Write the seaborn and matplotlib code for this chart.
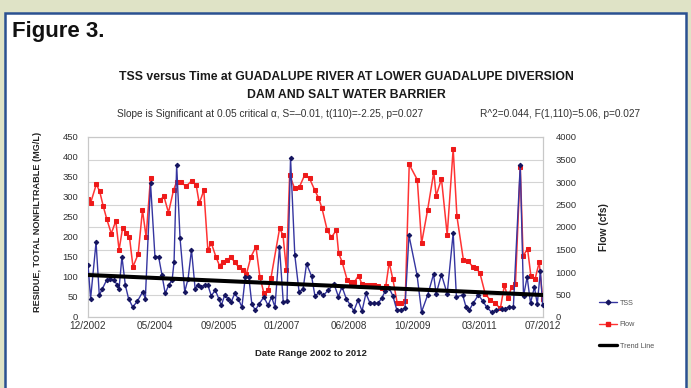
import numpy as np
import pandas as pd
import matplotlib
matplotlib.use("Agg")
import matplotlib.pyplot as plt
import matplotlib.dates as mdates
from matplotlib.lines import Line2D
from matplotlib.patches import Rectangle
import seaborn as sns

# ---------------- data ----------------
tss_dates = [
    "2002-12-01", "2002-12-21", "2003-02-01", "2003-02-26", "2003-03-22", "2003-04-23",
    "2003-05-18", "2003-06-18", "2003-07-13", "2003-07-28", "2003-08-19", "2003-09-14",
    "2003-10-09", "2003-11-10", "2003-12-15", "2004-01-26", "2004-02-15", "2004-03-26",
    "2004-04-29", "2004-05-27", "2004-06-22", "2004-07-17", "2004-08-13", "2004-09-08",
    "2004-09-23", "2004-10-13", "2004-11-08", "2004-12-14", "2005-01-09", "2005-02-04",
    "2005-03-04", "2005-03-25", "2005-04-20", "2005-05-16", "2005-06-10", "2005-07-06",
    "2005-08-06", "2005-09-02", "2005-09-21", "2005-10-17", "2005-11-12", "2005-12-07",
    "2006-01-03", "2006-01-29", "2006-02-27", "2006-03-25", "2006-04-21", "2006-05-14",
    "2006-06-10", "2006-07-10", "2006-08-15", "2006-09-16", "2006-10-13", "2006-11-08",
    "2006-12-13", "2007-01-11", "2007-02-09", "2007-03-08", "2007-04-10", "2007-05-13",
    "2007-06-13", "2007-07-09", "2007-08-17", "2007-09-12", "2007-10-15", "2007-11-15",
    "2007-12-23", "2008-02-06", "2008-03-10", "2008-04-07", "2008-05-10", "2008-06-10",
    "2008-07-07", "2008-08-08", "2008-09-08", "2008-10-08", "2008-11-09", "2008-12-09",
    "2009-01-09", "2009-02-06", "2009-03-06", "2009-04-05", "2009-05-03", "2009-06-03",
    "2009-07-04", "2009-08-04", "2009-09-04", "2009-11-05", "2009-12-10", "2010-01-27",
    "2010-03-12", "2010-04-01", "2010-05-12", "2010-06-25", "2010-08-10", "2010-09-04",
    "2010-10-22", "2010-11-16", "2010-12-13", "2011-01-10", "2011-02-20", "2011-03-26",
    "2011-04-24", "2011-06-01", "2011-07-09", "2011-08-17", "2011-09-12", "2011-10-13",
    "2011-11-16", "2012-01-08", "2012-02-02", "2012-03-01", "2012-03-27", "2012-04-26",
    "2012-05-18", "2012-06-11", "2012-06-28",
]
tss_values = [
    131, 46, 187, 54, 71, 92,
    95, 92, 81, 71, 151, 80,
    46, 25, 39, 63, 46, 335,
    151, 151, 105, 59, 80, 92,
    138, 380, 197, 63, 96, 168,
    71, 80, 75, 80, 80, 53,
    67, 46, 29, 54, 46, 38,
    59, 46, 25, 100, 100, 33,
    17, 33, 50, 29, 50, 25,
    175, 37, 40, 398, 154, 62,
    71, 133, 102, 52, 62, 54,
    67, 82, 51, 76, 45, 30,
    15, 42, 15, 59, 34, 34,
    34, 47, 65, 72, 53, 17,
    17, 22, 204, 105, 13, 56,
    107, 58, 106, 58, 210, 50,
    55, 26, 18, 34, 55, 40,
    25, 12, 17, 21, 21, 25,
    25, 380, 52, 100, 35, 75,
    32, 116, 29,
]

flow_dates = [
    "2002-12-01", "2002-12-21", "2003-02-03", "2003-03-01", "2003-03-28", "2003-04-25",
    "2003-05-29", "2003-07-03", "2003-07-28", "2003-08-24", "2003-09-19", "2003-10-16",
    "2003-11-12", "2003-12-22", "2004-01-24", "2004-02-21", "2004-03-26", "2004-04-29",
    "2004-06-10", "2004-07-07", "2004-08-11", "2004-09-19", "2004-10-12", "2004-11-12",
    "2004-12-26", "2005-02-05", "2005-03-12", "2005-04-05", "2005-05-10", "2005-06-10",
    "2005-07-07", "2005-08-11", "2005-09-08", "2005-10-04", "2005-11-05", "2005-12-05",
    "2006-01-01", "2006-02-02", "2006-03-04", "2006-04-03", "2006-05-07", "2006-06-15",
    "2006-07-15", "2006-08-15", "2006-09-16", "2006-10-08", "2006-12-14", "2007-01-09",
    "2007-02-04", "2007-03-01", "2007-04-08", "2007-05-16", "2007-06-24", "2007-08-01",
    "2007-09-10", "2007-10-09", "2007-11-05", "2007-12-15", "2008-01-16", "2008-02-24",
    "2008-03-12", "2008-04-07", "2008-05-17", "2008-06-15", "2008-07-11", "2008-08-12",
    "2008-09-08", "2008-10-08", "2008-11-09", "2008-12-09", "2009-01-09", "2009-02-09",
    "2009-03-10", "2009-04-05", "2009-05-03", "2009-06-05", "2009-07-06", "2009-08-06",
    "2009-09-06", "2009-11-07", "2009-12-10", "2010-01-25", "2010-03-14", "2010-04-01",
    "2010-05-12", "2010-06-25", "2010-08-10", "2010-09-08", "2010-10-28", "2010-11-30",
    "2011-01-08", "2011-02-02", "2011-03-04", "2011-04-13", "2011-05-21", "2011-06-24",
    "2011-08-08", "2011-09-08", "2011-10-06", "2011-11-03", "2011-12-02", "2012-01-08",
    "2012-01-30", "2012-03-04", "2012-03-30", "2012-05-02", "2012-06-02", "2012-06-28",
]
flow_values = [
    2630, 2535, 2950, 2790, 2465, 2170,
    1855, 2135, 1490, 1975, 1875, 1775,
    1115, 1400, 2375, 1780, 3100, np.nan,
    2607, 2682, 2320, 2820, 3000, 2990,
    2910, 3025, 2935, 2525, 2815, 1490,
    1640, 1335, 1140, 1225, 1265, 1335,
    1220, 1110, 1050, 960, 1335, 1560,
    895, 530, 600, 860, 1970, 1820,
    1045, 3150, 2860, 2895, 3150, 3080,
    2820, 2650, 2415, 1930, 1770, 1930,
    1415, 1230, 820, 780, 780, 920,
    725, 710, 710, 705, 700, 640,
    690, 1210, 840, 320, 320, 350,
    3390, 3050, 1640, 2375, 3220, 2690,
    3070, 1825, 3735, 2235, 1260, 1245,
    1120, 1092, 972, 520, 377, 318,
    190, 705, 415, 674, 728, 3330,
    1350, 1520, 910, 855, 1220, 410,
]

trend_dates = ["2002-12-01", "2012-07-01"]
trend_values = [105, 55]

tick_dates = ["2002-12-01", "2004-05-01", "2005-09-01", "2007-01-01",
              "2008-06-01", "2009-10-01", "2011-03-01", "2012-07-01"]
left_ticks = [0, 50, 100, 150, 200, 250, 300, 350, 400, 450]
right_ticks = [0, 500, 1000, 1500, 2000, 2500, 3000, 3500, 4000]

# ---------------- frames ----------------
tss_df = pd.DataFrame({"date": pd.to_datetime(tss_dates), "tss": tss_values})
flow_df = pd.DataFrame({"date": pd.to_datetime(flow_dates), "flow": flow_values})
flow_df["segment"] = flow_df["flow"].isna().cumsum()
flow_df = flow_df.dropna()
trend_df = pd.DataFrame({"date": pd.to_datetime(trend_dates), "trend": trend_values})

# ---------------- style ----------------
sns.set_theme(style="white")
plt.rcParams["font.family"] = ["Liberation Sans", "DejaVu Sans"]

W, H = 691, 388
fig = plt.figure(figsize=(W / 100, H / 100), dpi=100)
fig.patch.set_facecolor("#dfe3c6")

# white panel with blue border (drawn beneath everything)
panel = Rectangle((5 / W, -0.01), 681 / W, (H - 13) / H + 0.01, transform=fig.transFigure,
                  facecolor="white", edgecolor="#2a5191", linewidth=1.8, zorder=-10)
fig.patches.append(panel)

fig.text(12 / W, 1 - 32 / H, "Figure 3.", fontsize=16, fontweight="bold",
         family=["Liberation Sans Narrow", "Liberation Sans"],
         color="#111111", va="center", ha="left")

ax_left, ax_right, ax_top, ax_bottom = 88, 543, 137, 317
ax = fig.add_axes([ax_left / W, 1 - ax_bottom / H, (ax_right - ax_left) / W,
                   (ax_bottom - ax_top) / H])
ax2 = ax.twinx()

blue_line = "#3535a0"
blue_mark = "#14145e"
red_line = "#ff3333"
red_mark = "#ee1a1a"

sns.lineplot(data=flow_df, x="date", y="flow", units="segment", estimator=None,
             color=red_line, lw=1.1, marker="s", markersize=3.1,
             markerfacecolor=red_mark, markeredgecolor=red_mark, ax=ax2, zorder=2)
sns.lineplot(data=tss_df, x="date", y="tss", color=blue_line, lw=1.0,
             marker="D", markersize=2.3, markerfacecolor=blue_mark,
             markeredgecolor=blue_mark, ax=ax, zorder=3)
sns.lineplot(data=trend_df, x="date", y="trend", color="black", lw=2.9, ax=ax, zorder=4)

# left axis above the twin so TSS & trend overlay flow
ax.set_zorder(ax2.get_zorder() + 1)
ax.patch.set_visible(False)

xmin, xmax = pd.Timestamp(tick_dates[0]), pd.Timestamp(tick_dates[-1])
ax.set_xlim(xmin, xmax)
ax.set_ylim(0, 450)
ax2.set_ylim(0, 4000)
ax.set_xticks(pd.to_datetime(tick_dates))
ax.xaxis.set_major_formatter(mdates.DateFormatter("%m/%Y"))
ax.set_yticks(left_ticks)
ax2.set_yticks(right_ticks)

for t in right_ticks:
    ax2.axhline(t, color="#d4d4d4", lw=0.8, zorder=0)

tick_col = "#333333"
ax.tick_params(axis="x", labelsize=7.2, colors=tick_col, length=0, pad=3)
ax.tick_params(axis="y", labelsize=6.8, colors=tick_col, length=0, pad=7)
ax2.tick_params(axis="y", labelsize=6.8, colors=tick_col, length=0, pad=9)

for a in (ax, ax2):
    for s in a.spines.values():
        s.set_color("#c8c8c8")
        s.set_linewidth(0.8)
ax.set_xlabel("")
ax.set_ylabel("")
ax2.set_ylabel("")

# titles and labels
fig.text(346 / W, 1 - 77 / H, "TSS versus Time at GUADALUPE RIVER AT LOWER GUADALUPE DIVERSION",
         fontsize=8.8, fontweight="bold", ha="center", va="center", color="#1a1a1a")
fig.text(346 / W, 1 - 95 / H, "DAM AND SALT WATER BARRIER",
         fontsize=8.8, fontweight="bold", ha="center", va="center", color="#1a1a1a")
fig.text(117 / W, 1 - 114 / H,
         "Slope is Significant at 0.05 critical \u03b1, S=\u20130.01, t(110)=-2.25, p=0.027",
         fontsize=7.3, ha="left", va="center", color="#333333")
fig.text(640 / W, 1 - 114 / H, "R^2=0.044, F(1,110)=5.06, p=0.027",
         fontsize=7.3, ha="right", va="center", color="#333333")
fig.text(38 / W, 1 - 222 / H, "RESIDUE, TOTAL NONFILTRABLE (MG/L)", rotation=90,
         fontsize=6.6, fontweight="bold", ha="center", va="center", color="#222222")
fig.text(604 / W, 1 - 227 / H, "Flow (cfs)", rotation=90,
         fontsize=7.4, fontweight="bold", ha="center", va="center", color="#222222")
fig.text(311 / W, 1 - 354 / H, "Date Range 2002 to 2012",
         fontsize=6.8, fontweight="bold", ha="center", va="center", color="#222222")

handles = [
    Line2D([], [], color=blue_line, lw=1.0, marker="D", markersize=2.4,
           markerfacecolor=blue_mark, markeredgecolor=blue_mark),
    Line2D([], [], color=red_line, lw=1.0, marker="s", markersize=3,
           markerfacecolor=red_mark, markeredgecolor=red_mark),
    Line2D([], [], color="black", lw=2.4),
]
leg = fig.legend(handles, ["TSS", "Flow", "Trend Line"], loc="upper left",
                 bbox_to_anchor=(595 / W, 1 - 296 / H), frameon=False,
                 fontsize=5.2, handlelength=2.6, handletextpad=0.3,
                 labelspacing=2.0, borderpad=0)
for t in leg.get_texts():
    t.set_color("#555555")

fig.savefig("out.png", dpi=100)
